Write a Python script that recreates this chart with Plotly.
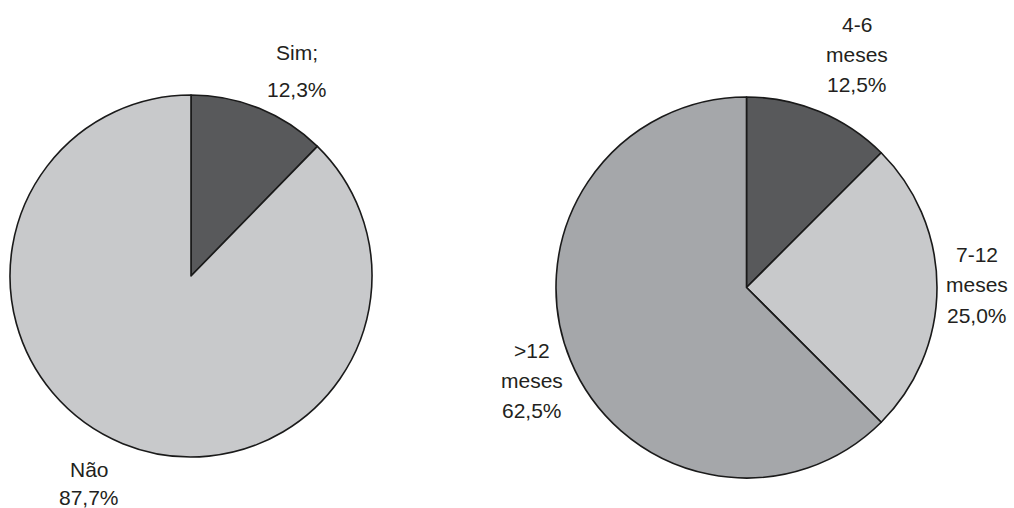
import plotly.graph_objects as go

W, H = 1014, 508

left_labels = ["Sim;", "Não"]
left_values = [12.3, 87.7]
left_colors = ["#58595b", "#c8c9cb"]

right_labels = ["4-6 meses", "7-12 meses", ">12 meses"]
right_values = [12.5, 25.0, 62.5]
right_colors = ["#58595b", "#c8c9cb", "#a5a7aa"]


def fmt(v):
    return f"{v:.1f}".replace(".", ",") + "%"


def px_dom(x0, x1, y0, y1):
    return dict(x=[x0 / W, x1 / W], y=[1 - y1 / H, 1 - y0 / H])


fig = go.Figure()
fig.add_trace(go.Pie(
    labels=left_labels, values=left_values, sort=False, direction="clockwise",
    rotation=0, textinfo="none", hoverinfo="label+percent",
    marker=dict(colors=left_colors, line=dict(color="#1a1a1a", width=1.6)),
    domain=px_dom(10, 372, 95, 457), showlegend=False,
))
fig.add_trace(go.Pie(
    labels=right_labels, values=right_values, sort=False, direction="clockwise",
    rotation=0, textinfo="none", hoverinfo="label+percent",
    marker=dict(colors=right_colors, line=dict(color="#1a1a1a", width=1.6)),
    domain=px_dom(556, 937, 97, 478), showlegend=False,
))

# label anchor positions (pixel x centre, list of line cap-centres)
left_pos = [(297, [52.5, 89]), (89, [469, 497])]
right_pos = [(857, [24, 54, 84]), (977, [254.5, 284.5, 315.5]), (532, [350.5, 380.5, 410.5])]

annos = []


def add_label(lines, x, ys):
    for line, y in zip(lines, ys):
        annos.append(dict(
            text=line, x=x / W, y=1 - y / H, xref="paper", yref="paper",
            xanchor="center", yanchor="middle", showarrow=False, borderpad=0,
            font=dict(family="Liberation Sans, Arial, sans-serif", size=21, color="#231f20"),
        ))


for lab, val, (x, ys) in zip(left_labels, left_values, left_pos):
    add_label([lab, fmt(val)], x, ys)
for lab, val, (x, ys) in zip(right_labels, right_values, right_pos):
    add_label(lab.split(" ") + [fmt(val)], x, ys)

fig.update_layout(
    width=W, height=H, margin=dict(l=0, r=0, t=0, b=0),
    paper_bgcolor="white", plot_bgcolor="white",
    annotations=annos,
)

fig.write_html(
    "out.html",
    config={"displayModeBar": False},
    post_script="document.body.style.margin='0';document.body.style.overflow='hidden';",
)
